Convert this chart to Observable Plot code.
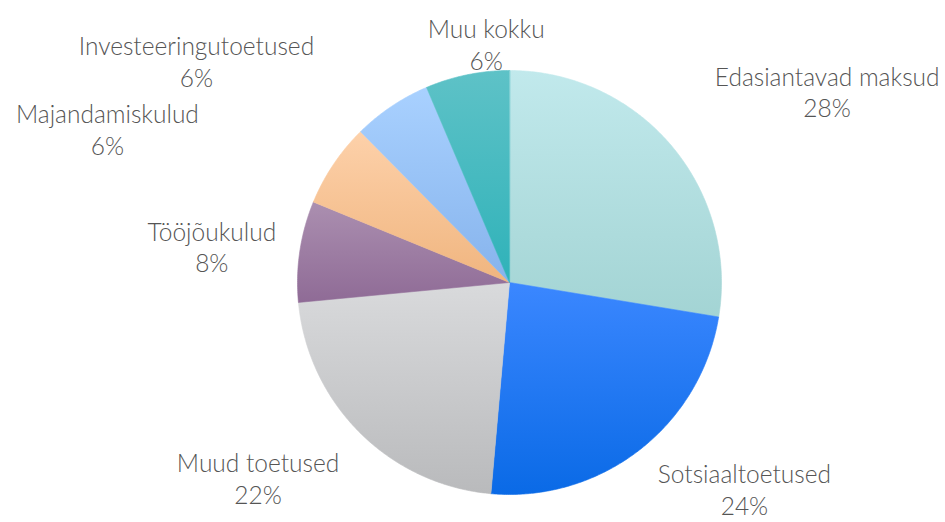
<!DOCTYPE html>
<html>
<head>
<meta charset="utf-8">
<script src="https://cdn.jsdelivr.net/npm/d3@7"></script>
<script src="https://cdn.jsdelivr.net/npm/@observablehq/plot@0.6"></script>
<style>
  html, body { margin: 0; padding: 0; background: #fff; }
  #chart svg { display: block; }
</style>
</head>
<body>
<div id="chart"></div>
<script>
// ---- data ----
const categories = ["Edasiantavad maksud", "Sotsiaaltoetused", "Muud toetused", "Tööjõukulud", "Majandamiskulud", "Investeeringutoetused", "Muu kokku"];
const shares = [27.6, 23.8, 22.1, 7.7, 6.4, 6.0, 6.4];
const topColors = ["#c1e9ec", "#3b87ff", "#d9dadc", "#ab8fb0", "#fdd1aa", "#a9d1ff", "#5ec2c7"];
const bottomColors = ["#a3d4d4", "#0a6ae6", "#b9babc", "#8f6b96", "#f0b57f", "#86b3ec", "#2fb2b9"];

// ---- layout ----
const W = 945, H = 522, CX = 509, CY = 282, R = 212;
// label nudges (pixels) from each slice's outer arc midpoint
const labelNudge = [[156, -54], [105, 39], [-102, 45], [-88, -5], [-226, -36], [-195, -46], [19, -31]];

const total = d3.sum(shares);
const pt = (a, r = 1) => [r * Math.sin(a), -r * Math.cos(a)];

let acc = 0;
const slices = categories.map((name, i) => {
  const a0 = acc / total * 2 * Math.PI;
  acc += shares[i];
  const a1 = acc / total * 2 * Math.PI;
  const n = Math.max(2, Math.ceil((a1 - a0) / (Math.PI / 360)));
  const ring = [[0, 0]];
  for (let k = 0; k <= n; ++k) ring.push(pt(a0 + (a1 - a0) * k / n));
  ring.push([0, 0]);
  const am = (a0 + a1) / 2;
  const [mx, my] = pt(am);
  return {
    name, i,
    pct: Math.round(shares[i] / total * 100),
    geometry: {type: "Polygon", coordinates: [ring]},
    lx: mx + labelNudge[i][0] / R,
    ly: my + labelNudge[i][1] / R,
    fill: `url(#grad${i})`
  };
});

// domain rectangle = whole SVG in pie units
const x0 = -CX / R, x1 = (W - CX) / R, y0 = -CY / R, y1 = (H - CY) / R;
const domainRect = {type: "Polygon", coordinates: [[[x0, y0], [x1, y0], [x1, y1], [x0, y1], [x0, y0]]]};

const defsMark = () => {
  const ns = "http://www.w3.org/2000/svg";
  const defs = document.createElementNS(ns, "defs");
  categories.forEach((_, i) => {
    const g = document.createElementNS(ns, "linearGradient");
    g.setAttribute("id", `grad${i}`);
    g.setAttribute("x1", "0"); g.setAttribute("y1", "0");
    g.setAttribute("x2", "0"); g.setAttribute("y2", "1");
    const s0 = document.createElementNS(ns, "stop");
    s0.setAttribute("offset", "0"); s0.setAttribute("stop-color", topColors[i]);
    const s1 = document.createElementNS(ns, "stop");
    s1.setAttribute("offset", "1"); s1.setAttribute("stop-color", bottomColors[i]);
    g.append(s0, s1);
    defs.append(g);
  });
  return defs;
};

const chart = Plot.plot({
  width: W,
  height: H,
  margin: 0,
  projection: {type: "identity", domain: domainRect},
  color: {type: "identity"},
  style: {background: "#fff"},
  marks: [
    defsMark,
    Plot.geo(slices, {
      geometry: d => d.geometry,
      fill: d => d.fill,
      stroke: d => d.fill,
      strokeWidth: 0.6
    }),
    Plot.text(slices, {
      x: d => d.lx,
      y: d => d.ly,
      text: d => `${d.name}\n${d.pct}%`,
      lineAnchor: "middle",
      textAnchor: "middle",
      lineHeight: 1.3,
      fontSize: 24.5,
      fontFamily: "Lato",
      fontWeight: 300,
      fill: "#555555"
    })
  ]
});
document.getElementById("chart").append(chart);
</script>
</body>
</html>
